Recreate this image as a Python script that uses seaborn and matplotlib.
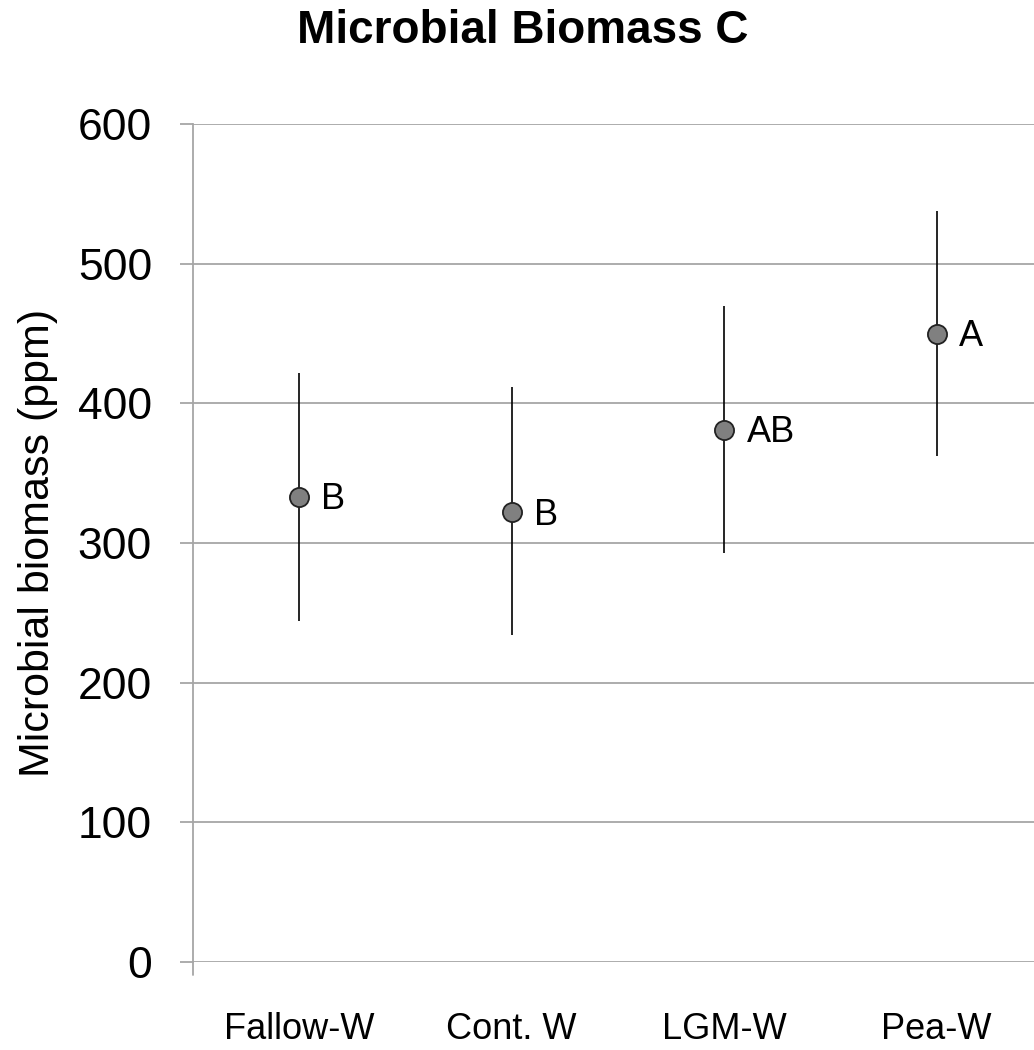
import matplotlib
matplotlib.use("Agg")
import matplotlib.pyplot as plt
import seaborn as sns
import pandas as pd

categories = ["Fallow-W", "Cont. W", "LGM-W", "Pea-W"]
means = [333, 322, 381, 450]
upper = [422, 412, 470, 538]
lower = [244, 234, 293, 362]
letters = ["B", "B", "AB", "A"]
yticks = [0, 100, 200, 300, 400, 500, 600]

sns.set_theme(style="white")
plt.rcParams['font.family'] = ['Liberation Sans', 'DejaVu Sans']
plt.rcParams['text.color'] = 'black'
plt.rcParams['axes.labelcolor'] = 'black'
plt.rcParams['xtick.color'] = 'black'
plt.rcParams['ytick.color'] = 'black'

df = pd.DataFrame({"cat": categories, "mean": means, "lo": lower, "hi": upper, "let": letters})

fig = plt.figure(figsize=(10.34, 10.5), dpi=100)
ax = fig.add_axes([193/1034, 88/1050, 850/1034, 838/1050])

ax.set_ylim(0, 600)
ax.set_xlim(-0.5, 3.5)
ax.set_yticks(yticks)
ax.yaxis.grid(True, color="#a6a6a6", linewidth=1.3)
ax.set_axisbelow(True)

x = list(range(len(categories)))
ax.vlines(x, df["lo"], df["hi"], color="black", linewidth=1.2, zorder=2)
sns.scatterplot(x=x, y=df["mean"], ax=ax, s=190, color="#808080",
                edgecolor="#222222", linewidth=1.3, zorder=3, legend=False)

for xi, m, t in zip(x, df["mean"], df["let"]):
    ax.annotate(t, (xi, m), xytext=(16, -2), textcoords="offset points",
                ha="left", va="center", fontsize=26, color="black")

ax.set_xticks(x)
ax.set_xticklabels(categories, fontsize=26)
ax.tick_params(axis="x", length=0, pad=36, labelcolor="black")
ax.tick_params(axis="y", labelsize=32, length=9.5, width=1.3, color="#a6a6a6",
               direction="out", left=True, pad=20, labelcolor="black")

for s in ["top", "right", "bottom"]:
    ax.spines[s].set_visible(False)
ax.spines["left"].set_color("#a6a6a6")
ax.spines["left"].set_linewidth(1.3)
ax.plot([-0.5, -0.5], [0, -9], color="#a6a6a6", linewidth=1.3, clip_on=False)

ax.set_ylabel("Microbial biomass (ppm)", fontsize=31, labelpad=14, color="black")
ax.set_xlabel("")
fig.text(523/1034, 1 - 31/1050, "Microbial Biomass C", ha="center", va="center",
         fontsize=33, fontweight="bold", color="black")

fig.savefig("out.png", dpi=100)
